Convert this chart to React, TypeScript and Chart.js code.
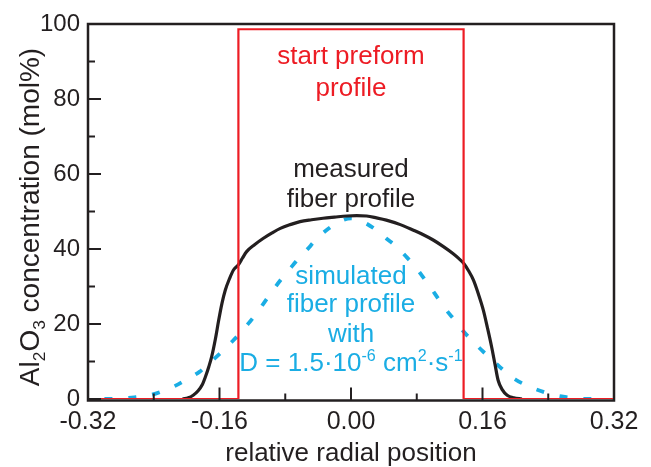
import React, { useEffect, useRef } from "react";
import { Chart, registerables } from "chart.js";

Chart.register(...registerables);

// ---- data ----
const measuredX = [-0.205, -0.198, -0.192, -0.186, -0.181, -0.177, -0.173, -0.1695, -0.165, -0.161, -0.157, -0.153, -0.148, -0.143, -0.137, -0.132, -0.127, -0.117, -0.107, -0.096, -0.086, -0.074, -0.062, -0.048, -0.034, -0.02, -0.005, 0.007, 0.019, 0.031, 0.043, 0.06, 0.076, 0.088, 0.1, 0.112, 0.124, 0.131, 0.137, 0.143, 0.149, 0.155, 0.161, 0.166, 0.171, 0.175, 0.179, 0.184, 0.19, 0.198, 0.208];
const measuredY = [0, 0.3, 1.0, 2.2, 3.8, 6.0, 8.6, 11.3, 16, 21, 25.5, 29, 32, 34.4, 35.8, 37.6, 39.3, 41.2, 42.8, 44.3, 45.5, 46.5, 47.3, 47.8, 48.2, 48.5, 48.8, 48.9, 48.8, 48.3, 47.7, 46.5, 45, 43.8, 42.4, 40.7, 38.8, 37.5, 36.2, 34.2, 31.7, 28, 23.7, 19, 14, 9.5, 5, 2.5, 1.0, 0.3, 0];

const simulatedX = [-0.30, -0.28, -0.262, -0.245, -0.228, -0.214, -0.2, -0.184, -0.172, -0.159, -0.147, -0.135, -0.125, -0.115, -0.105, -0.095, -0.085, -0.074, -0.064, -0.054, -0.042, -0.030, -0.015, 0, 0.015, 0.031, 0.043, 0.0555, 0.067, 0.078, 0.087, 0.096, 0.106, 0.116, 0.127, 0.137, 0.149, 0.161, 0.174, 0.188, 0.2, 0.214, 0.23, 0.246, 0.262, 0.28, 0.30];
const simulatedY = [0, 0.1, 0.5, 1.0, 2.2, 3.5, 5.2, 7.3, 9.6, 12.2, 14.8, 17.5, 20.1, 22.8, 25.9, 29, 31.9, 34.8, 37.4, 39.7, 42.6, 45, 47.2, 48.2, 47.2, 45, 42.8, 40.6, 38, 35.3, 32.7, 30, 26.8, 23.7, 20.8, 18, 15.2, 12.6, 10, 7.2, 5.2, 3.6, 2.2, 1.1, 0.5, 0.05, 0];

const preformX = [-0.32, -0.137, -0.137, 0.137, 0.137, 0.32];
const preformY = [0, 0, 98.6, 98.6, 0, 0];

const xLabelTicks = [-0.32, -0.16, 0, 0.16, 0.32];
const xMinorTicks = [-0.24, -0.08, 0.08, 0.24];
const yLabelTicks = [0, 20, 40, 60, 80, 100];
const yMinorTicks = [10, 30, 50, 70, 90];

const preformLabel = ["start preform", "profile"];
const measuredLabel = ["measured", "fiber profile"];
const simulatedLabel = ["simulated", "fiber profile", "with"];

// ---- styles ----
const FONT = "'Liberation Sans', Arial, Helvetica, sans-serif";
const DARK = "#231F20";
const RED = "#ED1C24";
const BLUE = "#1AADE4";

type Seg = { t: string; sub?: boolean; sup?: boolean };

function drawRich(ctx: CanvasRenderingContext2D, segs: Seg[], cx: number, cy: number, size: number, color: string, rot = 0) {
  const small = size * 0.62;
  const widths = segs.map((s) => {
    ctx.font = `${s.sub || s.sup ? small : size}px ${FONT}`;
    return ctx.measureText(s.t).width;
  });
  const total = widths.reduce((a, b) => a + b, 0);
  ctx.save();
  ctx.translate(cx, cy);
  ctx.rotate(rot);
  ctx.fillStyle = color;
  ctx.textBaseline = "alphabetic";
  ctx.textAlign = "left";
  let x = -total / 2;
  const base = size * 0.36;
  segs.forEach((s, i) => {
    ctx.font = `${s.sub || s.sup ? small : size}px ${FONT}`;
    let y = base;
    if (s.sub) y += size * 0.2;
    if (s.sup) y -= size * 0.38;
    ctx.fillText(s.t, x, y);
    x += widths[i];
  });
  ctx.restore();
}

const overlay = {
  id: "overlay",
  beforeDatasetsDraw(chart: any) {
    const { ctx, chartArea: a } = chart;
    ctx.save();
    ctx.strokeStyle = DARK;
    ctx.lineWidth = 2.5;
    ctx.strokeRect(a.left, a.top, a.right - a.left, a.bottom - a.top + 1.5);
    ctx.restore();
  },
  afterDatasetsDraw(chart: any) {
    const { ctx, chartArea: a, scales } = chart;
    const xs = scales.x;
    const ys = scales.y;
    ctx.save();
    ctx.strokeStyle = DARK;
    ctx.lineWidth = 2;
    const bottom = a.bottom + 1.5;
    xLabelTicks.forEach((v) => {
      const px = xs.getPixelForValue(v);
      ctx.beginPath();
      ctx.moveTo(px, bottom);
      ctx.lineTo(px, bottom - 13);
      ctx.stroke();
    });
    xMinorTicks.forEach((v) => {
      const px = xs.getPixelForValue(v);
      ctx.beginPath();
      ctx.moveTo(px, bottom);
      ctx.lineTo(px, bottom - 7);
      ctx.stroke();
    });
    yLabelTicks.forEach((v) => {
      const py = ys.getPixelForValue(v);
      ctx.beginPath();
      ctx.moveTo(a.left, py);
      ctx.lineTo(a.left + 13, py);
      ctx.stroke();
    });
    yMinorTicks.forEach((v) => {
      const py = ys.getPixelForValue(v);
      ctx.beginPath();
      ctx.moveTo(a.left, py);
      ctx.lineTo(a.left + 7, py);
      ctx.stroke();
    });
    ctx.restore();

    const cx = xs.getPixelForValue(0);
    const size = 26;
    const put = (text: string, yv: number, color: string) =>
      drawRich(ctx, [{ t: text }], cx, ys.getPixelForValue(yv), size, color);
    put(preformLabel[0], 91.7, RED);
    put(preformLabel[1], 83.2, RED);
    put(measuredLabel[0], 61.6, DARK);
    put(measuredLabel[1], 53.6, DARK);
    put(simulatedLabel[0], 33.1, BLUE);
    put(simulatedLabel[1], 25.6, BLUE);
    put(simulatedLabel[2], 17.6, BLUE);
    drawRich(
      ctx,
      [
        { t: "D = 1.5\u00B710" },
        { t: "-6", sup: true },
        { t: " cm" },
        { t: "2", sup: true },
        { t: "\u00B7s" },
        { t: "-1", sup: true },
      ],
      cx,
      ys.getPixelForValue(9.9),
      size,
      BLUE
    );

    // axis titles
    drawRich(
      ctx,
      [
        { t: "Al" },
        { t: "2", sub: true },
        { t: "O" },
        { t: "3", sub: true },
        { t: " concentration (mol%)" },
      ],
      29,
      217,
      28,
      DARK,
      -Math.PI / 2
    );
    drawRich(ctx, [{ t: "relative radial position" }], (a.left + a.right) / 2, 452, 26, DARK);
  },
};

export default function App() {
  const ref = useRef<HTMLCanvasElement | null>(null);
  useEffect(() => {
    if (!ref.current) return;
    const toPts = (xs: number[], ys: number[]) => xs.map((x, i) => ({ x, y: ys[i] }));
    const chart = new Chart(ref.current, {
      type: "line",
      data: {
        datasets: [
          {
            label: "start preform profile",
            data: toPts(preformX, preformY),
            borderColor: RED,
            borderWidth: 2.2,
            pointRadius: 0,
            tension: 0,
            fill: false,
          },
          {
            label: "measured fiber profile",
            data: toPts(measuredX, measuredY),
            borderColor: DARK,
            borderWidth: 3.2,
            pointRadius: 0,
            cubicInterpolationMode: "monotone",
            fill: false,
          },
          {
            label: "simulated fiber profile",
            data: toPts(simulatedX, simulatedY),
            borderColor: BLUE,
            borderWidth: 3.8,
            borderDash: [8, 16],
            pointRadius: 0,
            cubicInterpolationMode: "monotone",
            fill: false,
          },
        ],
      },
      options: {
        responsive: false,
        animation: false,
        parsing: false as any,
        layout: { padding: { left: 0, right: 37, top: 24, bottom: 0 } },
        plugins: { legend: { display: false }, tooltip: { enabled: false } },
        scales: {
          x: {
            type: "linear",
            min: -0.32,
            max: 0.32,
            grid: { display: false, drawTicks: false },
            border: { display: false },
            afterBuildTicks: (s: any) => {
              s.ticks = xLabelTicks.map((v) => ({ value: v }));
            },
            ticks: {
              font: { family: FONT, size: 25 },
              color: DARK,
              padding: 8,
              maxRotation: 0,
              autoSkip: false,
              callback: (v: any) => Number(v).toFixed(2),
            },
            afterFit: (s: any) => {
              s.height = 68;
              s.paddingLeft = 0;
              s.paddingRight = 0;
            },
          },
          y: {
            type: "linear",
            min: 0,
            max: 100,
            grid: { display: false, drawTicks: false },
            border: { display: false },
            afterBuildTicks: (s: any) => {
              s.ticks = yLabelTicks.map((v) => ({ value: v }));
            },
            ticks: {
              font: { family: FONT, size: 24 },
              color: DARK,
              padding: 8,
              autoSkip: false,
            },
            afterFit: (s: any) => {
              s.width = 88;
              s.paddingTop = 0;
              s.paddingBottom = 0;
            },
          },
        },
      },
      plugins: [overlay],
    } as any);
    return () => chart.destroy();
  }, []);
  return (
    <div style={{ position: "absolute", left: 0, top: 0, width: 651, height: 467, background: "#fff" }}>
      <canvas ref={ref} width={651} height={467} style={{ width: 651, height: 467, display: "block" }} />
    </div>
  );
}
